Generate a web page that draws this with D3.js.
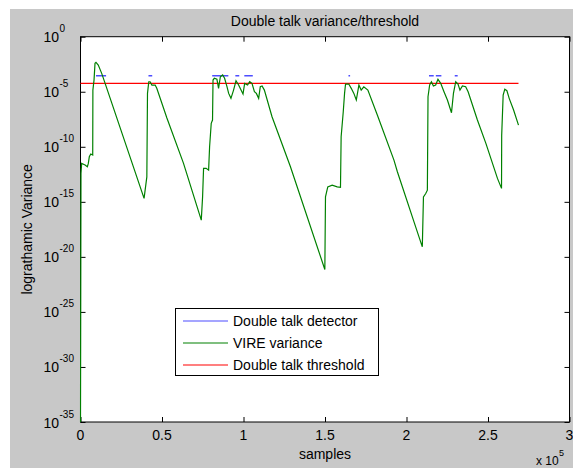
<!DOCTYPE html>
<html><head><meta charset="utf-8">
<script src="https://cdn.jsdelivr.net/npm/d3@7"></script>
<style>html,body{margin:0;padding:0;background:#fff;}svg{display:block;}</style>
</head><body>
<script>
// ---- data ----
const vireSamplesK = [0,0.3,0.7,2.8,4.2,4.8,5.4,6.3,7.5,7.6,8.3,8.9,9.5,10.9,13.0,15.1,39.0,40.7,41.1,41.9,42.7,43.8,45.8,46.8,53.0,63.2,74.1,74.9,75.5,77.1,78.6,79.2,80.2,81.0,81.3,82.1,83.7,84.7,85.8,87.2,88.4,89.9,90.9,92.3,93.9,95.4,97.0,98.5,99.7,100.7,102.5,103.8,105.2,106.7,107.9,109.3,110.3,111.4,112.8,117.5,128.8,149.9,150.3,151.7,154.4,157.5,159.5,159.9,161.2,162.0,162.6,164.6,166.1,167.7,169.2,170.8,172.2,173.8,176.3,182.1,192.3,194.4,204.6,209.7,210.4,211.8,212.8,213.2,214.2,215.3,216.5,217.9,219.3,221.0,223.0,225.1,227.6,228.8,230.2,231.6,232.8,234.3,236.3,237.8,243.5,248.7,255.8,258.3,258.4,259.3,260.3,261.6,263.0,265.7,268.7];
const vireLog10 = [-35,-12.42,-11.51,-11.66,-11.82,-11.51,-10.91,-10.66,-10.75,-4.85,-3.94,-2.42,-2.33,-2.57,-3.33,-4.24,-14.69,-12.73,-5.15,-4.09,-4.09,-4.39,-4.39,-4.69,-7.39,-11.51,-16.66,-14.55,-11.96,-11.96,-12.12,-10.0,-7.87,-7.57,-3.94,-3.78,-3.87,-4.69,-3.64,-3.48,-3.78,-4.55,-5.15,-5.6,-4.85,-4.0,-4.39,-4.85,-5.21,-4.24,-4.39,-4.09,-4.24,-5.0,-5.15,-5.6,-4.55,-4.48,-4.85,-7.27,-11.82,-21.15,-14.55,-13.64,-13.48,-13.64,-13.69,-9.09,-6.82,-5.15,-4.3,-4.3,-4.69,-5.15,-5.75,-4.39,-4.85,-4.55,-4.85,-7.12,-11.21,-12.27,-16.82,-19.09,-14.55,-14.24,-13.94,-5.45,-4.39,-4.09,-4.48,-4.39,-3.87,-4.24,-5.0,-5.75,-6.91,-5.15,-4.09,-4.3,-4.85,-4.48,-4.55,-5.0,-7.57,-9.69,-12.87,-13.78,-8.94,-5.3,-4.78,-4.91,-5.6,-6.66,-8.03];
const detectorStartK = [9.5,41.7,80.8,95.0,100.5,164.4,213.8,218.0,229.6];
const detectorEndK   = [15.7,44.0,90.7,97.4,105.7,165.4,216.7,221.4,231.4];
const detectorLevel = 2.8e-4;
const thresholdLevel = 5.8e-5;
const thresholdEndK = 268.7;
const xTicks = [0, 0.5, 1, 1.5, 2, 2.5, 3];      // x 10^5
const yTickExps = [0, -5, -10, -15, -20, -25, -30, -35];
const legendLabels = ["Double talk detector", "VIRE variance", "Double talk threshold"];
const legendColors = ["#4d4dff", "#008000", "#ff0000"];

// ---- drawing ----
const W = 573, H = 468;
const pL = 80.5, pR = 569.5, pT = 36.7, pB = 422;
const svg = d3.select("body").append("svg").attr("width", W).attr("height", H)
  .style("font-family", "'Liberation Sans', Arial, sans-serif");
svg.append("rect").attr("x", 10).attr("y", 9).attr("width", W - 10).attr("height", H - 9).attr("fill", "#c8c8c8");
svg.append("rect").attr("x", pL).attr("y", pT).attr("width", pR - pL).attr("height", pB - pT).attr("fill", "#fff");

const x = d3.scaleLinear().domain([0, 3e5]).range([pL, pR]);
const y = d3.scaleLog().domain([1e-35, 1]).range([pB, pT]);

// axes box
const tidy = s => { s.select(".domain").remove(); s.selectAll("line").attr("stroke", "#000"); };
svg.append("g").attr("transform", `translate(0,${pB})`)
  .call(d3.axisBottom(x).tickValues(xTicks.map(t => t * 1e5)).tickSizeInner(-5).tickSizeOuter(0).tickFormat(""))
  .call(tidy);
svg.append("g").attr("transform", `translate(0,${pT})`)
  .call(d3.axisTop(x).tickValues(xTicks.map(t => t * 1e5)).tickSizeInner(-5).tickSizeOuter(0).tickFormat(""))
  .call(tidy);
svg.append("g").attr("transform", `translate(${pL},0)`)
  .call(d3.axisLeft(y).tickValues(yTickExps.map(e => Math.pow(10, e))).tickSizeInner(-5).tickSizeOuter(0).tickFormat(""))
  .call(tidy);
svg.append("g").attr("transform", `translate(${pR},0)`)
  .call(d3.axisRight(y).tickValues(yTickExps.map(e => Math.pow(10, e))).tickSizeInner(-5).tickSizeOuter(0).tickFormat(""))
  .call(tidy);
svg.append("rect").attr("x", pL).attr("y", pT).attr("width", pR - pL).attr("height", pB - pT)
  .attr("fill", "none").attr("stroke", "#000").attr("stroke-width", 1);

svg.append("defs").append("clipPath").attr("id", "clip").append("rect")
  .attr("x", pL - 1).attr("y", pT - 1).attr("width", pR - pL + 1).attr("height", pB - pT + 1);
const g = svg.append("g").attr("clip-path", "url(#clip)");

// threshold
g.append("line").attr("x1", x(0)).attr("x2", x(thresholdEndK * 1000))
  .attr("y1", y(thresholdLevel)).attr("y2", y(thresholdLevel))
  .attr("stroke", legendColors[2]).attr("stroke-width", 1.4);

// detector
g.selectAll("line.det").data(detectorStartK).enter().append("line").attr("class", "det")
  .attr("x1", d => x(d * 1000)).attr("x2", (d, i) => x(detectorEndK[i] * 1000))
  .attr("y1", y(detectorLevel)).attr("y2", y(detectorLevel))
  .attr("stroke", legendColors[0]).attr("stroke-width", 1.6);

// VIRE variance
const pts = vireSamplesK.map((s, i) => [s * 1000, Math.pow(10, vireLog10[i])]);
g.append("path").datum(pts)
  .attr("d", d3.line().x(d => x(d[0])).y(d => y(d[1])))
  .attr("fill", "none").attr("stroke", legendColors[1]).attr("stroke-width", 1.2);

// x tick labels
const fmtX = d => d === 0 ? "0" : String(d);
svg.selectAll("text.xt").data(xTicks).enter().append("text").attr("class", "xt")
  .attr("x", d => x(d * 1e5)).attr("y", 440).attr("text-anchor", "middle")
  .attr("font-size", 14).text(fmtX);

// y tick labels
yTickExps.forEach(e => {
  const yy = y(Math.pow(10, e));
  svg.append("text").attr("x", 59).attr("y", yy + 5.5).attr("text-anchor", "end")
    .attr("font-size", 14).text("10");
  svg.append("text").attr("x", 59.5).attr("y", yy - 4.5).attr("text-anchor", "start")
    .attr("font-size", 10).text(String(e));
});

// title & labels
svg.append("text").attr("x", (pL + pR) / 2).attr("y", 26).attr("text-anchor", "middle")
  .attr("font-size", 14).text("Double talk variance/threshold");
svg.append("text").attr("x", (pL + pR) / 2).attr("y", 459).attr("text-anchor", "middle")
  .attr("font-size", 14).text("samples");
svg.append("text").attr("transform", `translate(32,${(pT + pB) / 2}) rotate(-90)`)
  .attr("text-anchor", "middle").attr("font-size", 14).text("lograthamic Variance");
svg.append("text").attr("x", 536).attr("y", 465).attr("font-size", 12).text("x 10");
svg.append("text").attr("x", 559).attr("y", 456).attr("font-size", 9).text("5");

// legend
const lg = svg.append("g");
lg.append("rect").attr("x", 175.5).attr("y", 308.5).attr("width", 203).attr("height", 67)
  .attr("fill", "#fff").attr("stroke", "#000");
const rowY = [321, 343, 365];
legendLabels.forEach((lab, i) => {
  lg.append("line").attr("x1", 183).attr("x2", 228).attr("y1", rowY[i]).attr("y2", rowY[i])
    .attr("stroke", legendColors[i]).attr("stroke-width", 1.2);
  lg.append("text").attr("x", 233).attr("y", rowY[i] + 5).attr("font-size", 14).text(lab);
});
</script>
</body></html>
